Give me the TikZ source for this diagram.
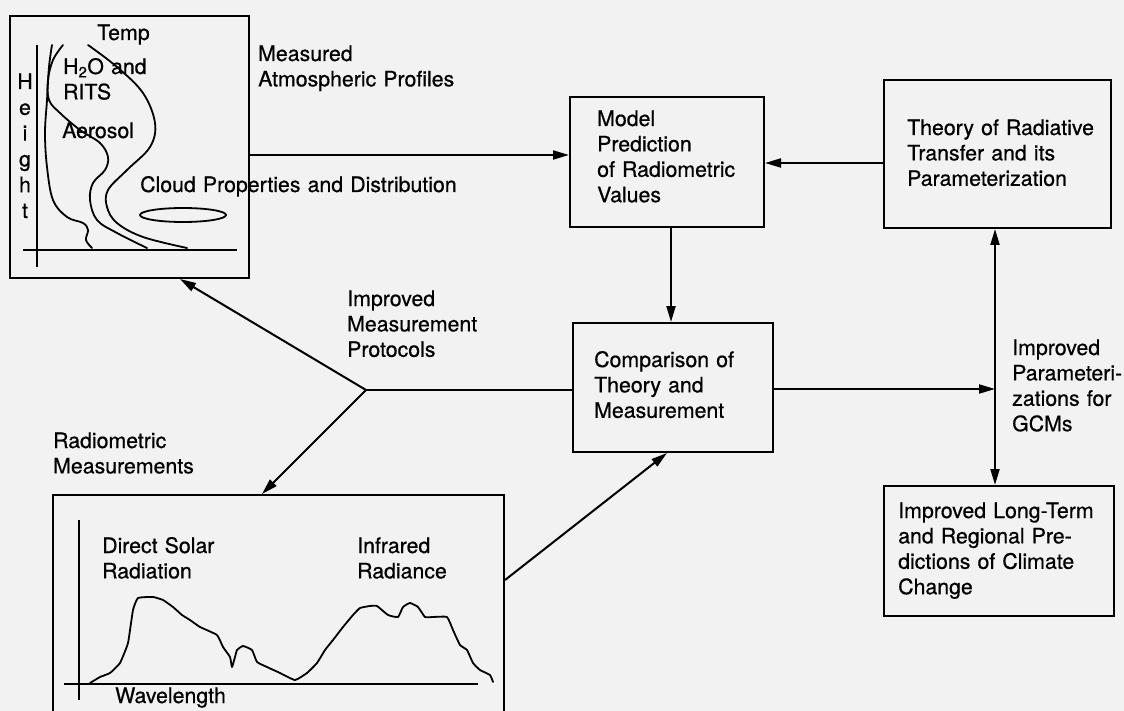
\documentclass[tikz,border=0pt]{standalone}
\usepackage{fontspec}
\setmainfont{TeX Gyre Heros}[FakeBold=0.6]
\usetikzlibrary{arrows.meta,calc}
\begin{document}
\begin{tikzpicture}[x=1pt,y=-1pt,
  box/.style={draw, line width=2pt, inner sep=0pt, anchor=north west},
  lbl/.style={font=\fontsize{21.3}{25.4}\selectfont, inner sep=0pt, anchor=base west, align=left, text width=#1},
  lbl/.default=6cm,
  arr/.style={line width=2pt, -{Triangle[length=16pt,width=9pt]}},
  dblarr/.style={line width=2pt, {Triangle[length=16pt,width=9pt]}-{Triangle[length=16pt,width=9pt]}},
  ln/.style={line width=2pt},
  crv/.style={line width=1.8pt, line join=round, line cap=round}]
\fill[black!5] (0,0) rectangle (1124,711);
\useasboundingbox (0,0) rectangle (1124,711);

% ---------- boxes ----------
\node[box, minimum width=239pt, minimum height=262pt] (prof) at (9,15) {};
\node[box, minimum width=194pt, minimum height=130pt] (model) at (569,96) {};
\node[box, minimum width=227pt, minimum height=148pt] (theory) at (883,79) {};
\node[box, minimum width=200pt, minimum height=129pt] (comp) at (572,322) {};
\node[box, minimum width=230pt, minimum height=130pt] (climate) at (883,485) {};
\node[box, minimum width=451pt, minimum height=232pt] (radio) at (52,494) {};

% ---------- box texts ----------
\node[lbl=6cm] (tmodel) at (597,126) {Model\\Prediction\\of Radiometric\\Values};
\node[lbl=7cm] (ttheory) at (907,135) {Theory of Radiative\\Transfer and its\\Parameterization};
\node[lbl=6cm] (tcomp) at (594,367) {Comparison of\\Theory and\\Measurement};
\node[lbl=7cm] (tclimate) at (898,518) {Improved Long-Term\\and Regional Pre-\\dictions of Climate\\Change};

% ---------- free labels ----------
\node[lbl=8cm] (tmeas) at (258,61) {Measured\\Atmospheric Profiles};
\node[lbl=6cm] (tprot) at (347,306) {Improved\\Measurement\\Protocols};
\node[lbl=6cm] (tradio) at (53,448) {Radiometric\\Measurements};
\node[lbl=4cm] (tgcm) at (1012,355) {Improved\\Parameteri-\\zations for\\GCMs};

% ---------- atmospheric profile plot ----------
\draw[ln] (37,45) -- (37,267);
\draw[ln] (23,250) -- (237,250);
\node[lbl=3cm] (temp) at (97,40) {Temp};
\node[lbl=4cm] (h2o) at (63,74) {H\textsubscript{2}O and\\RITS};
\node[lbl=4cm] (aer) at (62,138) {Aerosol};
\node[font=\fontsize{21.3}{25.8}\selectfont, inner sep=0pt, anchor=base, align=center, text width=20pt] (hgt) at (25,89) {H\\e\\i\\g\\h\\t};
\node[lbl=12cm] (cloud) at (140,192) {Cloud Properties and Distribution};
\draw[crv] (183,215) ellipse [x radius=43, y radius=7];
% curves
\draw[crv] plot[smooth, tension=0.6] coordinates {(52,45) (49,67) (47,100) (45,133) (47,167) (53,200) (67,217) (83,223) (88,230) (86,240) (92,248)};
\draw[crv] plot[smooth, tension=0.6] coordinates {(63,45) (53,60) (48,80) (49,100) (60,113) (80,130) (100,143) (108,157) (105,170) (93,183) (90,200) (97,220) (117,233) (147,248)};
\draw[crv] plot[smooth, tension=0.6] coordinates {(88,45) (117,67) (143,93) (155,123) (150,147) (127,170) (108,190) (107,207) (117,223) (143,237) (187,248)};

% ---------- radiometric plot ----------
\draw[ln] (79,520) -- (79,700);
\draw[ln] (64,684) -- (478,684);
\node[lbl=5cm] (tsolar) at (102,553) {Direct Solar\\Radiation};
\node[lbl=5cm] (tir) at (357,553) {Infrared\\Radiance};
\node[lbl=5cm] (twave) at (115,703) {Wavelength};
\draw[crv] plot[smooth, tension=0.25] coordinates {(90,683) (100,677) (110,673) (120,663) (128,643) (133,610) (138,598) (153,597) (163,600) (173,607) (182,615) (190,620) (200,627) (217,635) (223,647) (230,657) (232,667) (235,657) (237,650) (243,646) (252,650) (257,662) (267,667) (280,673) (295,680) (307,673) (317,663) (325,650) (333,640) (343,627) (353,615) (360,608) (370,606) (377,606) (388,615) (398,617) (403,607) (410,603) (418,607) (425,617) (433,617) (447,617) (453,630) (460,645) (467,650) (473,663) (480,670) (490,675) (493,682)};

% ---------- connectors ----------
\coordinate (br) at (366,390);
\coordinate (jn) at (995,389);
\draw[arr] (prof.east |- 0,155) -- (model.west |- 0,155);
\draw[arr] (theory.west |- 0,163) -- (model.east |- 0,163);
\draw[arr] (model.south -| 671,0) -- (comp.north -| 671,0);
\draw[ln] (br) -- (comp.west |- br);
\draw[arr] (br) -- (prof.south -| 180,0);
\draw[arr] (br) -- (radio.north -| 262,0);
\draw[arr] (radio.east |- 0,580) -- (comp.south -| 667,0);
\draw[arr] (comp.east |- jn) -- (jn);
\draw[dblarr] (theory.south -| jn) -- (climate.north -| jn);
\end{tikzpicture}
\end{document}
